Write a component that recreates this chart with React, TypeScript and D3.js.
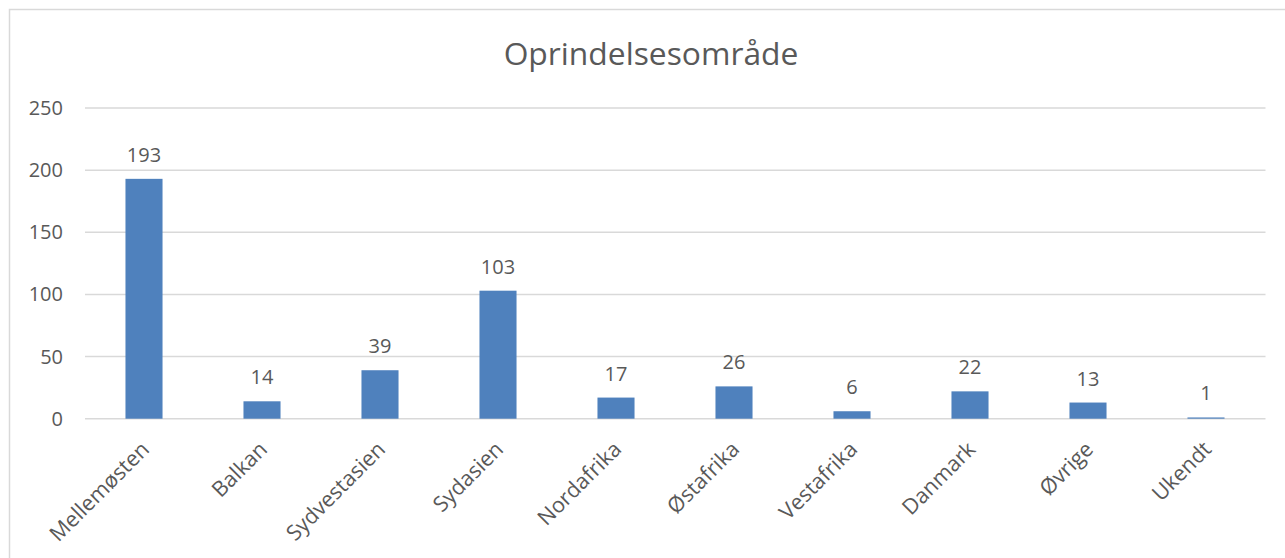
import React from "react";
import * as d3 from "d3";

const categories = ["Mellemøsten", "Balkan", "Sydvestasien", "Sydasien", "Nordafrika", "Østafrika", "Vestafrika", "Danmark", "Øvrige", "Ukendt"];
const values = [193, 14, 39, 103, 17, 26, 6, 22, 13, 1];
const yTicks = [0, 50, 100, 150, 200, 250];
const title = "Oprindelsesområde";

const W = 1285;
const H = 558;
const FONT = "'Open Sans', sans-serif";
const TEXT = "#595959";

export default function App() {
  const x = d3
    .scaleBand<string>()
    .domain(categories)
    .range([85, 1265])
    .paddingInner(0.686)
    .paddingOuter(0.343);
  const y = d3.scaleLinear().domain([0, 250]).range([418.7, 108]);

  return (
    <svg
      width={W}
      height={H}
      style={{ position: "absolute", left: 0, top: 0, display: "block", background: "#fff" }}
    >
      <rect x={9.5} y={9.5} width={W + 20} height={H + 20} fill="#fff" stroke="#d9d9d9" strokeWidth={1.5} />
      <text x={651} y={65} textAnchor="middle" fontFamily={FONT} fontSize={31.8} fill={TEXT}>
        {title}
      </text>
      {yTicks.map((t) => (
        <g key={t}>
          <line x1={85} x2={1265.5} y1={y(t)} y2={y(t)} stroke="#d9d9d9" strokeWidth={1.5} />
          <text x={63} y={y(t)} dy="0.35em" textAnchor="end" fontFamily={FONT} fontSize={20} fill={TEXT}>
            {t}
          </text>
        </g>
      ))}
      {categories.map((c, i) => {
        const bx = x(c)!;
        const cx = bx + x.bandwidth() / 2;
        return (
          <g key={c}>
            <rect x={bx} y={y(values[i])} width={x.bandwidth()} height={y(0) - y(values[i])} fill="#4f81bd" />
            <text
              x={cx}
              y={y(values[i]) - 17}
              textAnchor="middle"
              fontFamily={FONT}
              fontSize={20}
              fill={TEXT}
            >
              {values[i]}
            </text>
            <text
              transform={`translate(${cx - 4},${440}) rotate(-45)`}
              textAnchor="end"
              dy="0.7em"
              fontFamily={FONT}
              fontSize={21.5}
              fill={TEXT}
            >
              {c}
            </text>
          </g>
        );
      })}
    </svg>
  );
}
